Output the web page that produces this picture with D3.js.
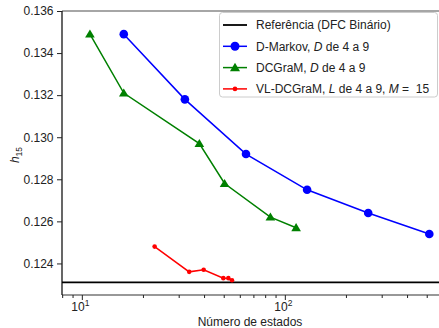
<!DOCTYPE html>
<html>
<head>
<meta charset="utf-8">
<script src="https://cdn.jsdelivr.net/npm/d3@7"></script>
<style>
  body { margin: 0; background: #fff; }
  text { font-family: "Liberation Sans", Arial, sans-serif; }
</style>
</head>
<body>
<div id="plot"></div>
<script>
const width = 439;
const height = 328;

// data
const referenceValue = 0.1231;

const markovStates = [16, 32, 64, 128, 256, 512];
const markovValues = [0.1349, 0.1318, 0.1292, 0.1275, 0.1264, 0.1254];

const dcgramStates = [10.9, 16, 37.7, 50.2, 84.4, 113];
const dcgramValues = [0.1349, 0.1321, 0.1297, 0.1278, 0.1262, 0.1257];

const vlStates = [22.7, 33.6, 39.6, 49.5, 52.4, 54.6];
const vlValues = [0.1248, 0.1236, 0.1237, 0.1233, 0.1233, 0.1232];

const yTicks = [0.124, 0.126, 0.128, 0.130, 0.132, 0.134, 0.136];
const xMajorTicks = [10, 100];
const xMinorTicks = [8, 9, 20, 30, 40, 50, 60, 70, 80, 90, 200, 300, 400, 500, 600, 700];

const legendLabels = [
    [{ t: "Referência (DFC Binário)" }],
    [{ t: "D-Markov, " }, { t: "D", i: true }, { t: " de 4 a 9" }],
    [{ t: "DCGraM, " }, { t: "D", i: true }, { t: " de 4 a 9" }],
    [{ t: "VL-DCGraM, " }, { t: "L", i: true }, { t: " de 4 a 9, " }, { t: "M", i: true }, { t: " =  15" }]
];

const axLeft = 62, axTop = 11, axBottom = 295;
const decade = 203;  // pixels per power of ten

const x = d3.scaleLog().domain([7.94, 794]).range([axLeft, axLeft + 2 * decade]);
const y = d3.scaleLinear().domain([0.1225, 0.136]).range([axBottom, axTop]);

const svg = d3.select("#plot").append("svg").attr("width", width).attr("height", height);

// spines
svg.append("line").attr("x1", axLeft).attr("x2", width).attr("y1", axTop).attr("y2", axTop)
    .attr("stroke", "#888").attr("stroke-width", 1.6);
svg.append("line").attr("x1", axLeft).attr("x2", width).attr("y1", axBottom).attr("y2", axBottom)
    .attr("stroke", "#333").attr("stroke-width", 1.2);
svg.append("line").attr("x1", axLeft).attr("x2", axLeft).attr("y1", axTop).attr("y2", axBottom)
    .attr("stroke", "#000").attr("stroke-width", 1.2);

// y axis
const yAxis = d3.axisLeft(y).tickValues(yTicks).tickFormat(d3.format(".3f")).tickSize(5).tickPadding(3.5);
const gy = svg.append("g").attr("transform", `translate(${axLeft},0)`).call(yAxis);
gy.select(".domain").remove();
gy.selectAll("line").attr("stroke", "#222");
gy.selectAll("text").attr("font-size", 12).attr("fill", "#222")
    .attr("font-family", "Liberation Sans, Arial, sans-serif");

// x axis: major + minor ticks
const gx = svg.append("g").attr("transform", `translate(0,${axBottom})`);
gx.selectAll(".minor").data(xMinorTicks).enter().append("line")
    .attr("x1", d => x(d)).attr("x2", d => x(d)).attr("y1", 0).attr("y2", 3)
    .attr("stroke", "#222");
gx.selectAll(".major").data(xMajorTicks).enter().append("line")
    .attr("x1", d => x(d)).attr("x2", d => x(d)).attr("y1", 0).attr("y2", 5)
    .attr("stroke", "#222");
const xl = gx.selectAll(".lbl").data(xMajorTicks).enter().append("text")
    .attr("x", d => x(d) - 2).attr("y", 15.5)
    .attr("text-anchor", "middle").attr("font-size", 12).attr("fill", "#222");
xl.append("tspan").text("10");
xl.append("tspan").attr("dy", -5).attr("font-size", 8.5).text(d => Math.round(Math.log10(d)));

// axis labels
svg.append("text").attr("x", 250).attr("y", 326).attr("text-anchor", "middle")
    .attr("font-size", 12).attr("fill", "#222").text("Número de estados");
const yl = svg.append("text").attr("transform", "translate(19,155) rotate(-90)")
    .attr("text-anchor", "middle").attr("font-size", 12).attr("fill", "#222");
yl.append("tspan").attr("font-style", "italic").text("h");
yl.append("tspan").attr("dy", 3).attr("font-size", 8.5).text("15");

// reference line
svg.append("line").attr("x1", axLeft).attr("x2", width)
    .attr("y1", y(referenceValue)).attr("y2", y(referenceValue))
    .attr("stroke", "#000").attr("stroke-width", 1.8);

const line = d3.line().x(d => x(d[0])).y(d => y(d[1]));

function triangle(cx, cy, s) {
    return `M${cx},${cy - s} L${cx + s * 1.05},${cy + s * 0.75} L${cx - s * 1.05},${cy + s * 0.75} Z`;
}

// D-Markov
const markov = d3.zip(markovStates, markovValues);
svg.append("path").datum(markov).attr("d", line).attr("fill", "none")
    .attr("stroke", "#0000ff").attr("stroke-width", 1.5);
svg.selectAll(".mk").data(markov).enter().append("circle")
    .attr("cx", d => x(d[0])).attr("cy", d => y(d[1])).attr("r", 4.3).attr("fill", "#0000ff");

// DCGraM
const dcgram = d3.zip(dcgramStates, dcgramValues);
svg.append("path").datum(dcgram).attr("d", line).attr("fill", "none")
    .attr("stroke", "#008000").attr("stroke-width", 1.5);
svg.selectAll(".dc").data(dcgram).enter().append("path")
    .attr("d", d => triangle(x(d[0]), y(d[1]), 4.6)).attr("fill", "#008000");

// VL-DCGraM
const vl = d3.zip(vlStates, vlValues);
svg.append("path").datum(vl).attr("d", line).attr("fill", "none")
    .attr("stroke", "#ff0000").attr("stroke-width", 1.5);
svg.selectAll(".vl").data(vl).enter().append("circle")
    .attr("cx", d => x(d[0])).attr("cy", d => y(d[1])).attr("r", 2.3).attr("fill", "#ff0000");

// legend
const lg = svg.append("g");
lg.append("rect").attr("x", 219.5).attr("y", 12.5).attr("width", 218).attr("height", 84.5)
    .attr("rx", 3).attr("fill", "#fff").attr("fill-opacity", 0.8)
    .attr("stroke", "#ccc").attr("stroke-width", 1);
const legendColors = ["#000", "#0000ff", "#008000", "#ff0000"];
legendLabels.forEach((parts, i) => {
    const cy = 25 + i * 21.3;
    lg.append("line").attr("x1", 223).attr("x2", 247).attr("y1", cy).attr("y2", cy)
        .attr("stroke", legendColors[i]).attr("stroke-width", i === 0 ? 1.8 : 1.5);
    if (i === 1) lg.append("circle").attr("cx", 235).attr("cy", cy).attr("r", 4.5).attr("fill", legendColors[i]);
    if (i === 2) lg.append("path").attr("d", triangle(235, cy, 4.8)).attr("fill", legendColors[i]);
    if (i === 3) lg.append("circle").attr("cx", 235).attr("cy", cy).attr("r", 2.3).attr("fill", legendColors[i]);
    const t = lg.append("text").attr("x", 256).attr("y", cy + 4.3).attr("font-size", 12).attr("fill", "#222")
        .style("white-space", "pre");
    parts.forEach(p => {
        t.append("tspan").attr("font-style", p.i ? "italic" : "normal").text(p.t);
    });
});
</script>
</body>
</html>
